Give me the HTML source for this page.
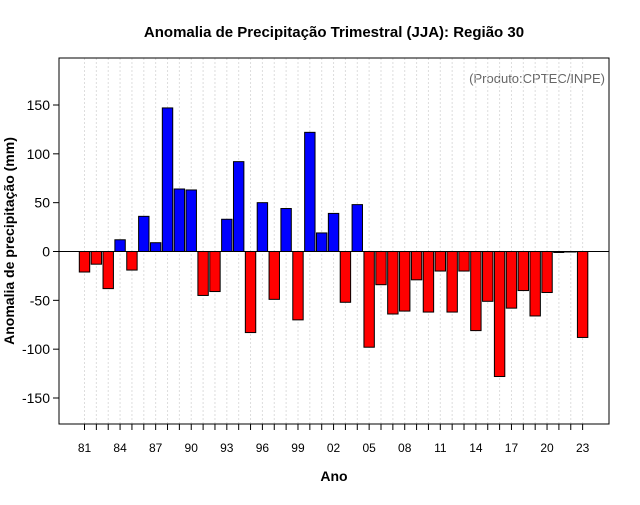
<!DOCTYPE html>
<html><head><meta charset="utf-8"><style>
body{margin:0;background:#fff;font-family:"Liberation Sans",sans-serif}
</style></head><body>
<svg id="c" width="640" height="500" xmlns="http://www.w3.org/2000/svg" font-family="Liberation Sans, sans-serif">
<text x="334" y="37" text-anchor="middle" font-size="15" font-weight="bold">Anomalia de Precipitação Trimestral (JJA): Região 30</text>
<text x="334" y="481" text-anchor="middle" font-size="14" font-weight="bold">Ano</text>
<text transform="translate(14,241) rotate(-90)" text-anchor="middle" font-size="14" font-weight="bold">Anomalia de precipitação (mm)</text>
<text x="605" y="83" text-anchor="end" font-size="13" fill="#666">(Produto:CPTEC/INPE)</text>
<g id="grid"></g><g id="bars"></g><g id="axes"></g>
</svg>
<script>
const years=[];for(let y=1981;y<=2023;y++)years.push(y);
const values=[-21,-13,-38,12,-19,36,9,147,64,63,-45,-41,33,92,-83,50,-49,44,-70,122,19,39,-52,48,-98,-34,-64,-61,-29,-62,-20,-62,-20,-81,-51,-128,-58,-40,-66,-42,-1,-0.5,-88];
const yTicks=[-150,-100,-50,0,50,100,150];
const xTickLabels=["81","84","87","90","93","96","99","02","05","08","11","14","17","20","23"];
const NS="http://www.w3.org/2000/svg";
const L=59,R=609,T=58,B=424;
const yS=v=>251.5-v*0.9767;
const xS=yr=>84.5+(yr-1981)*11.86;
function mk(tag,attrs,parent){const e=document.createElementNS(NS,tag);for(const k in attrs)e.setAttribute(k,attrs[k]);document.getElementById(parent).appendChild(e);return e;}
years.forEach(yr=>{const g=mk('line',{x1:xS(yr),x2:xS(yr),y1:T,y2:B,stroke:'#ddd','stroke-dasharray':'2,2'},'grid');

});
years.forEach((yr,i)=>{const v=values[i];const y0=yS(0),y1=yS(v);
const r=mk('rect',{x:xS(yr)-5.2,y:Math.min(y0,y1),width:10.4,height:Math.max(Math.abs(y1-y0),0.5),fill:v>=0?'#0000ff':'#ff0000',stroke:'#000','stroke-width':1},'bars');

});
const z=mk('line',{x1:L,x2:R,y1:yS(0),y2:yS(0),stroke:'#000'},'axes');


const bx=mk('rect',{x:L,y:T,width:R-L,height:B-T,fill:'none',stroke:'#000'},'axes');


yTicks.forEach(t=>{mk('line',{x1:L-6,x2:L,y1:yS(t),y2:yS(t),stroke:'#000'},'axes');
const tx=mk('text',{x:L-9,y:yS(t)+5,'text-anchor':'end','font-size':14},'axes');tx.textContent=t;

});
years.forEach(yr=>mk('line',{x1:xS(yr),x2:xS(yr),y1:B,y2:B+6,stroke:'#000'},'axes'));
xTickLabels.forEach((lab,i)=>{const yr=1981+i*3;const tx=mk('text',{x:xS(yr),y:452,'text-anchor':'middle','font-size':12},'axes');tx.textContent=lab;

});
</script>
</body></html>
